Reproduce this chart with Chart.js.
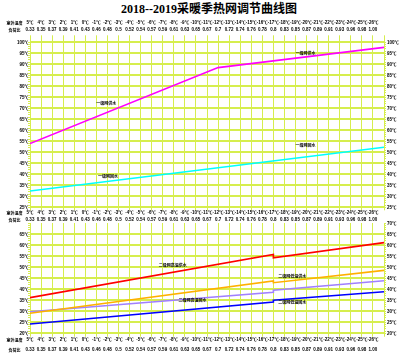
<!DOCTYPE html>
<html><head><meta charset="utf-8">
<script src="https://cdn.jsdelivr.net/npm/chart.js@4.4.0/dist/chart.umd.min.js"></script>
<style>
html,body{margin:0;padding:0;background:#fff;}
#wrap{position:relative;width:418px;height:356px;overflow:hidden;background:#fff;}
canvas{position:absolute;left:0;top:0;}
#title{position:absolute;left:0;top:1px;width:418px;text-align:center;font:bold 12px 'Liberation Serif','Noto Sans CJK SC';color:#000;line-height:16px;}
</style></head><body>
<div id="wrap">
<div id="title">2018--2019采暖季热网调节曲线图</div>
<canvas id="c1" width="418" height="356"></canvas>
<canvas id="c2" width="418" height="356"></canvas>
</div>
<script>
// ---- data ----
const outdoorTemps = ['5℃','4℃','3℃','2℃','1℃','0℃','-1℃','-2℃','-3℃','-4℃','-5℃','-6℃','-7℃','-8℃','-9℃','-10℃','-11℃','-12℃','-13℃','-14℃','-15℃','-16℃','-17℃','-18℃','-19℃','-20℃','-21℃','-22℃','-23℃','-24℃','-25℃','-26℃'];
const loadRatios = ['0.33','0.35','0.37','0.39','0.41','0.43','0.46','0.48','0.5','0.52','0.54','0.57','0.59','0.61','0.63','0.65','0.67','0.7','0.72','0.74','0.76','0.78','0.8','0.83','0.85','0.87','0.89','0.91','0.93','0.96','0.98','1.00'];
const topTempTicks = [100,95,90,85,80,75,70,65,60,55,50,45,40,35,30,25];
const bottomTempTicks = [70,65,60,55,50,45,40,35,30,25,20];

// vertices of each line: position index along the outdoor-temperature axis, and temperature (℃)
const primarySupplyIdx = [0, 17, 32];
const primarySupplyVal = [54, 88.5, 97.7];
const primaryReturnIdx = [0, 32];
const primaryReturnVal = [32.4, 52.3];

const secHighSupplyIdx = [0, 22, 22, 32];
const secHighSupplyVal = [36.2, 55.8, 54.3, 61.2];
const secLowSupplyIdx = [0, 22, 22, 32];
const secLowSupplyVal = [29.1, 43.8, 43.0, 48.6];
const secHighReturnIdx = [0, 22, 22, 32];
const secHighReturnVal = [29.8, 38.6, 39.6, 43.9];
const secLowReturnIdx = [0, 22, 22, 32];
const secLowReturnVal = [24.2, 34.2, 35.0, 38.9];

const seriesNames = ['一级网供水','一级网回水','二级网高温供水','二级网低温供水','二级网高温回水','二级网低温回水'];
// label anchors [index, value, series]
const topNotes = [[6.9,72,0],[24.9,95.1,0],[7.05,38.8,1],[24.9,52.9,1]];
const bottomNotes = [[12.9,50.6,2],[23.7,46,3],[14.7,34.8,4],[23.7,33.8,5]];

const GRID = '#d6ee4e';
const pts = (ix, vs) => ix.map((x, i) => ({x, y: vs[i]}));

const notePlugin = (notes) => ({
  id: 'notes',
  afterDatasetsDraw(chart) {
    const {ctx, scales: {x, y}} = chart;
    ctx.save();
    ctx.font = 'bold 4px "Noto Sans CJK SC"';
    ctx.fillStyle = '#000';
    ctx.textAlign = 'center';
    ctx.textBaseline = 'middle';
    notes.forEach(n => ctx.fillText(seriesNames[n[2]], x.getPixelForValue(n[0]), y.getPixelForValue(n[1])));
    ctx.restore();
  }
});
const sidePlugin = (rows) => ({
  id: 'side',
  afterDraw(chart) {
    const {ctx, chartArea} = chart;
    ctx.save();
    ctx.font = 'bold 4px "Noto Sans CJK SC"';
    ctx.fillStyle = '#000';
    ctx.textAlign = 'center';
    ctx.textBaseline = 'middle';
    rows.forEach(r => {
      const base = r.ref === 'top' ? chartArea.top : chartArea.bottom;
      ctx.fillText('室外温度', 14.5, base + r.d1);
      ctx.fillText('负荷比', 14.5, base + r.d2);
    });
    ctx.restore();
  }
});

function xTicksCb(v) { return v < outdoorTemps.length ? [outdoorTemps[v], loadRatios[v]] : ''; }
const tickFont = {size: 4.5, weight: 'bold', family: '"Liberation Sans","Noto Sans CJK SC"'};

function makeChart(id, datasets, yMin, yMax, leftTicks, rightTicks, top, bottom, topTL, topPad, botTL, botLabels, notes, side) {
  const H = 356;
  const rulerTicks = s => { const t = []; for (let v = yMin; v <= yMax; v++) t.push({value: v}); s.ticks = t; };
  const scales = {
    x: {type: 'linear', position: 'top', min: 0, max: 32,
      afterBuildTicks: s => { s.ticks = Array.from({length: 33}, (_, i) => ({value: i})); },
      afterFit: s => { s.height = top; },
      grid: {color: GRID, lineWidth: 1, drawTicks: topTL > 0, tickLength: topTL},
      border: {display: false},
      ticks: {autoSkip: false, maxRotation: 0, minRotation: 0, padding: topPad, color: '#000',
        font: Object.assign({lineHeight: 7 / 4.5}, tickFont), callback: xTicksCb}},
    xb: {type: 'linear', position: 'bottom', min: 0, max: 32,
      afterBuildTicks: s => { s.ticks = Array.from({length: 33}, (_, i) => ({value: i})); },
      afterFit: s => { s.height = H - bottom; },
      grid: {color: GRID, lineWidth: 1, drawOnChartArea: false, drawTicks: true, tickLength: botTL},
      border: {display: false},
      ticks: botLabels ? {autoSkip: false, maxRotation: 0, minRotation: 0, padding: botLabels.pad, color: '#000',
        font: Object.assign({lineHeight: botLabels.lh / 4.5}, tickFont), callback: xTicksCb} : {display: false}},
    y: {type: 'linear', position: 'left', min: yMin, max: yMax, weight: 1,
      afterBuildTicks: s => { s.ticks = leftTicks.map(v => ({value: v})); },
      afterFit: s => { s.width = 28; },
      grid: {color: GRID, lineWidth: 2, drawTicks: false},
      border: {display: false},
      ticks: {padding: -1, color: '#000', font: tickFont, callback: v => v + '℃'}},
    yr: {type: 'linear', position: 'left', min: yMin, max: yMax, weight: 0,
      afterBuildTicks: rulerTicks,
      afterFit: s => { s.width = 2; },
      grid: {color: GRID, lineWidth: 1, drawOnChartArea: false, drawTicks: true, tickLength: 2},
      border: {display: true, color: GRID, width: 1},
      ticks: {display: false}},
    yr2: {type: 'linear', position: 'right', min: yMin, max: yMax, weight: 0,
      afterBuildTicks: rulerTicks,
      afterFit: s => { s.width = 2; },
      grid: {color: GRID, lineWidth: 1, drawOnChartArea: false, drawTicks: true, tickLength: 2},
      border: {display: true, color: GRID, width: 1},
      ticks: {display: false}},
    y2: {type: 'linear', position: 'right', min: yMin, max: yMax, weight: 1,
      afterBuildTicks: s => { s.ticks = rightTicks.map(v => ({value: v})); },
      afterFit: s => { s.width = 32; },
      grid: {drawOnChartArea: false, drawTicks: false},
      border: {display: false},
      ticks: {padding: 1, color: '#000', font: tickFont, callback: v => v + '℃'}}
  };
  return new Chart(document.getElementById(id), {
    type: 'line',
    data: {datasets},
    options: {
      responsive: false, animation: false, devicePixelRatio: 1,
      layout: {padding: {left: 0, right: 0, top: 0, bottom: 0}},
      plugins: {legend: {display: false}, tooltip: {enabled: false}, title: {display: false}},
      elements: {point: {radius: 0}, line: {tension: 0}},
      scales
    },
    plugins: [notePlugin(notes), sidePlugin(side)]
  });
}

const ds = (label, ix, vs, color) => ({label, data: pts(ix, vs), borderColor: color, borderWidth: 1.6, pointRadius: 0, fill: false});

makeChart('c1', [
  ds(seriesNames[0], primarySupplyIdx, primarySupplyVal, '#ff00ff'),
  ds(seriesNames[1], primaryReturnIdx, primaryReturnVal, '#00ffff')
], 25, 100, topTempTicks, topTempTicks, 42.3, 207.3, 7, 2, 3, null, topNotes,
  [{ref: 'top', d1: -19.3, d2: -12.3}]);

makeChart('c2', [
  ds(seriesNames[2], secHighSupplyIdx, secHighSupplyVal, '#ff0000'),
  ds(seriesNames[3], secLowSupplyIdx, secLowSupplyVal, '#ffb000'),
  ds(seriesNames[4], secHighReturnIdx, secHighReturnVal, '#a080ff'),
  ds(seriesNames[5], secLowReturnIdx, secLowReturnVal, '#0000ff')
], 20, 70, bottomTempTicks.filter(v => v < 70), bottomTempTicks, 223.3, 333.3, 0, 0, 3.4, {pad: -1.7, lh: 10}, bottomNotes,
  [{ref: 'top', d1: -10.3, d2: -3.3}, {ref: 'bottom', d1: 6.7, d2: 16.7}]);
</script>
</body></html>
